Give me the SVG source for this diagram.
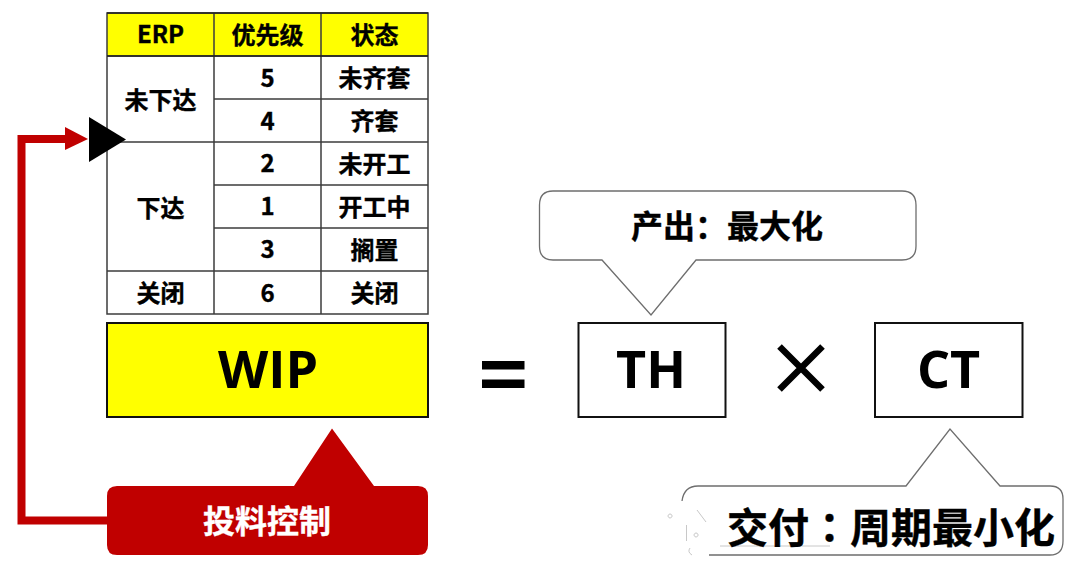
<svg xmlns="http://www.w3.org/2000/svg" width="1080" height="566" viewBox="0 0 1080 566">
<style>
text{font-family:"Noto Sans CJK SC","Open Sans",sans-serif;font-weight:700;text-anchor:middle;fill:#000;stroke:#000;stroke-width:.35px}
.t{font-size:24px}
.big{font-size:52px;font-family:"Open Sans","Noto Sans CJK SC",sans-serif;stroke-width:0}
.grid{stroke:#3c3c3c;stroke-width:1.5;fill:none}
.box{stroke:#111;stroke-width:2;fill:#fff}
.call{stroke:#6e6e6e;stroke-width:1.3;fill:#fff}
.wm{stroke:#c8c8c8;stroke-width:1;fill:none}
</style>
<rect width="1080" height="566" fill="#fff"/>
<g id="table">
<rect x="107" y="13" width="321" height="43" fill="#ff0"/>
<path class="grid" d="M107 13H428V314H107ZM214 13V314M321 13V314M107 56H428M214 99H428M107 142H428M214 185H428M214 228H428M107 271H428"/>
<path d="M107 13H428M107 56H428" stroke="#222" stroke-width="1.500" fill="none"/>
<text class="t" x="160.500" y="43">ERP</text><text class="t" x="267.500" y="43.500">优先级</text><text class="t" x="374.500" y="43.500">状态</text>
<text class="t" x="160.500" y="109">未下达</text><text class="t" x="267.500" y="86.500">5</text><text class="t" x="374.500" y="87">未齐套</text>
<text class="t" x="267.500" y="129.500">4</text><text class="t" x="374.500" y="130">齐套</text>
<text class="t" x="160.500" y="217">下达</text><text class="t" x="267.500" y="172">2</text><text class="t" x="374.500" y="173">未开工</text>
<text class="t" x="267.500" y="215">1</text><text class="t" x="374.500" y="216">开工中</text>
<text class="t" x="267.500" y="258">3</text><text class="t" x="374.500" y="259">搁置</text>
<text class="t" x="160.500" y="302">关闭</text><text class="t" x="267.500" y="301.500">6</text><text class="t" x="374.500" y="302">关闭</text>
</g>
<g id="wip"><rect class="box" x="107" y="323" width="321" height="94" style="fill:#ff0"/><text class="big" x="268" y="388">WIP</text></g>
<g id="eq"><rect x="482" y="361" width="42.500" height="8.500"/><rect x="482" y="379.500" width="42.500" height="8.500"/></g>
<g id="th"><rect class="box" x="578.500" y="323" width="147" height="94"/><text class="big" x="651" y="388">TH</text></g>
<g id="times"><path d="M779.500 346.500L822.500 389.500M822.500 346.500L779.500 389.500" stroke="#000" stroke-width="6.500" fill="none"/></g>
<g id="ct"><rect class="box" x="875" y="323" width="147.500" height="94"/><text class="big" x="948.500" y="388">CT</text></g>
<g id="callout-th"><path class="call" d="M553 191H902Q916 191 916 205V246Q916 260 902 260H696L651 315L602 260H553Q539.500 260 539.500 246V205Q539.500 191 553 191Z"/><text x="727" y="238" style="font-size:32px">产出：最大化</text></g>
<g id="callout-ct"><path class="call" style="fill:none" d="M682 501Q684 486 698 486H906L950 429L1000 486H1050Q1063 486 1063 499V541Q1063 555 1050 555H709"/>
<path class="wm" d="M686.500 525V541M670 518a2 2 0 1 1 .1 0M696 537a2 2 0 1 1 .1 0M690 548q-3 4 2 7M697 510l9 12M720 546H830"/>
<text x="891" y="543" style="font-size:41px">交付<tspan style="font-family:'Noto Sans CJK TC',sans-serif">：</tspan>周期最小化</text></g>
<g id="control"><path fill="#c00000" d="M117 486H294L332 428.500L374 486H418Q428 486 428 496V545Q428 555 418 555H117Q107 555 107 545V496Q107 486 117 486Z"/><text x="267" y="533" style="font-size:32px;fill:#fff;stroke:#fff">投料控制</text></g>
<g id="connectors">
<path d="M107 520.500H21.500V139H66" fill="none" stroke="#c00000" stroke-width="8"/>
<path d="M65 127L88 139L65 150Z" fill="#c00000"/>
<path d="M89 117L126 139.500L89 162Z" fill="#000"/>
</g>
</svg>
